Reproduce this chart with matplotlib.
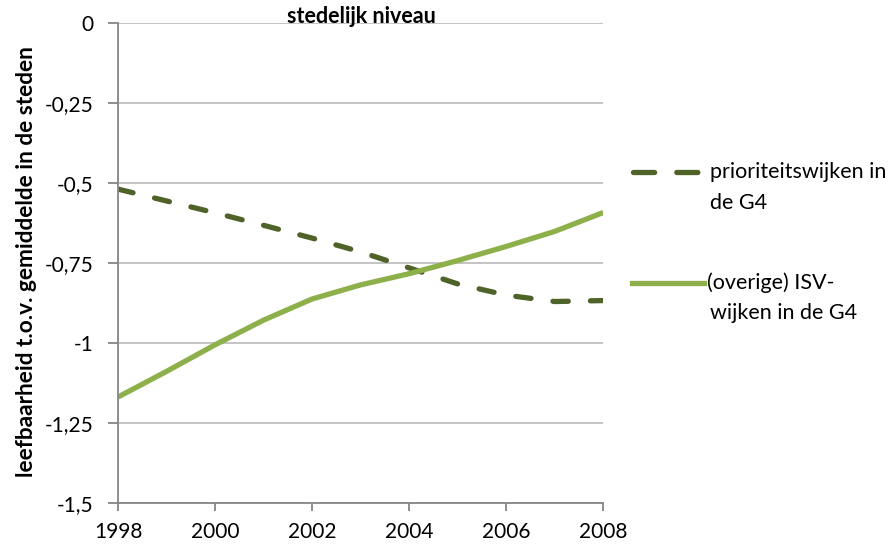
import matplotlib
matplotlib.use("Agg")
import matplotlib.pyplot as plt
from matplotlib.lines import Line2D

plt.rcParams['font.family'] = ['Lato', 'DejaVu Sans']

# data
jaren = [1998, 1999, 2000, 2001, 2002, 2003, 2004, 2005, 2006, 2007, 2008]
prioriteit = [-0.519, -0.556, -0.593, -0.632, -0.672, -0.715, -0.765, -0.815, -0.850, -0.870, -0.867]
isv = [-1.168, -1.088, -1.005, -0.928, -0.862, -0.818, -0.783, -0.742, -0.698, -0.651, -0.592]

y_ticks = [0, -0.25, -0.5, -0.75, -1, -1.25, -1.5]
y_labels = ['0', '-0,25', '-0,5', '-0,75', '-1', '-1,25', '-1,5']
x_ticks = [1998, 2000, 2002, 2004, 2006, 2008]

donker = '#4F6228'
licht = '#8DB04B'
grijs = '#868686'

fig = plt.figure(figsize=(8.95, 5.47), dpi=100)
ax = fig.add_axes([0.132, 0.080, 0.542, 0.878])

ax.plot(jaren, prioriteit, color=donker, linewidth=3.8, dashes=(2.9, 4.2),
        dash_capstyle='round', solid_joinstyle='round')
ax.plot(jaren, isv, color=licht, linewidth=3.8, solid_capstyle='butt',
        solid_joinstyle='round')

ax.set_xlim(1998, 2008)
ax.set_ylim(-1.5, 0)
ax.set_xticks(x_ticks)
ax.set_yticks(y_ticks)
ax.set_yticklabels(y_labels)
ax.grid(axis='y', color='#BFBFBF', linewidth=1.3)
ax.set_axisbelow(True)
for s in ['top', 'right']:
    ax.spines[s].set_visible(False)
for s in ['left', 'bottom']:
    ax.spines[s].set_color(grijs)
    ax.spines[s].set_linewidth(1.3)
ax.tick_params(axis='both', colors=grijs, width=1.3, labelsize=15, labelcolor='black')
ax.tick_params(axis='y', length=7, pad=11)
ax.tick_params(axis='x', length=5.5, pad=8)

fig.text(0.404, 0.969, 'stedelijk niveau', ha='center', va='center',
         fontsize=15.5, fontweight='bold')
fig.text(0.030, 1 - 262 / 547, 'leefbaarheid t.o.v. gemiddelde in de steden', rotation=90,
         ha='center', va='center', fontsize=16.3, fontweight='bold')

# legenda
def fy(py):
    return 1 - py / 547

fig.add_artist(Line2D([633 / 895, 702 / 895], [fy(172), fy(172)], color=donker,
                      linewidth=3.8, dashes=(4.0, 4.2), dash_capstyle='round'))
fig.add_artist(Line2D([632 / 895, 704 / 895], [fy(283), fy(283)], color=licht,
                      linewidth=3.8))
legenda = [(710, 172, 'prioriteitswijken in'), (710, 203, 'de G4'),
           (707, 283, '(overige) ISV-'), (710, 313, 'wijken in de G4')]
for px, py, tekst in legenda:
    fig.text(px / 895, fy(py), tekst, ha='left', va='center', fontsize=15.5)

fig.savefig('out.png', dpi=100)
